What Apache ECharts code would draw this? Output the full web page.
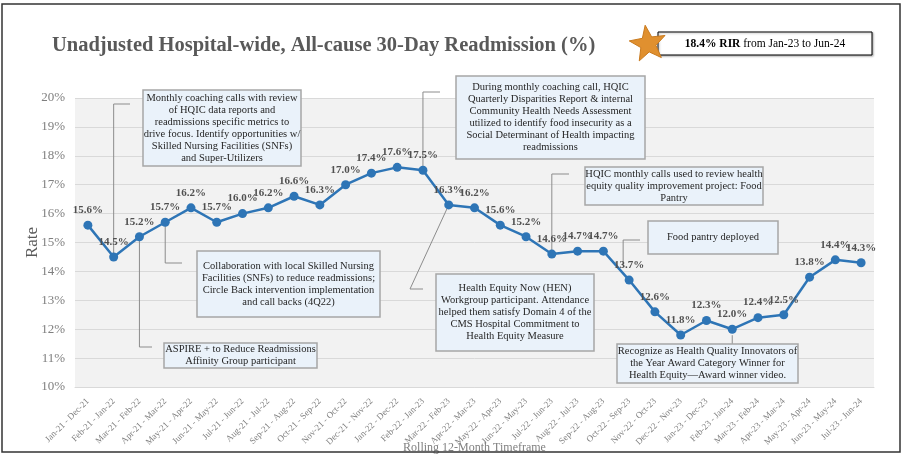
<!DOCTYPE html>
<html>
<head>
<meta charset="utf-8">
<script src="https://cdn.jsdelivr.net/npm/echarts@6/dist/echarts.min.js"></script>
<style>
    html, body { margin: 0; padding: 0; background: #fff; }
    #chart { width: 903px; height: 456px; }
</style>
</head>
<body>
<div id="chart"></div>
<script>
// 横轴：滚动12个月时间段
const periods = [
    'Jan-21 - Dec-21', 'Feb-21 - Jan-22', 'Mar-21 - Feb-22', 'Apr-21 - Mar-22', 'May-21 - Apr-22',
    'Jun-21 - May-22', 'Jul-21 - Jun-22', 'Aug-21 - Jul-22', 'Sep-21 - Aug-22', 'Oct-21 - Sep-22',
    'Nov-21 - Oct-22', 'Dec-21 - Nov-22', 'Jan-22 - Dec-22', 'Feb-22 - Jan-23', 'Mar-22 - Feb-23',
    'Apr-22 - Mar-23', 'May-22 - Apr-23', 'Jun-22 - May-23', 'Jul-22 - Jun-23', 'Aug-22 - Jul-23',
    'Sep-22 - Aug-23', 'Oct-22 - Sep-23', 'Nov-22 - Oct-23', 'Dec-22 - Nov-23', 'Jan-23 - Dec-23',
    'Feb-23 - Jan-24', 'Mar-23 - Feb-24', 'Apr-23 - Mar-24', 'May-23 - Apr-24', 'Jun-23 - May-24',
    'Jul-23 - Jun-24'
];
// 再入院率 (%)
const rates = [
    15.6, 14.5, 15.2, 15.7, 16.2, 15.7, 16.0, 16.2, 16.6, 16.3,
    17.0, 17.4, 17.6, 17.5, 16.3, 16.2, 15.6, 15.2, 14.6, 14.7,
    14.7, 13.7, 12.6, 11.8, 12.3, 12.0, 12.4, 12.5, 13.8, 14.4,
    14.3
];
// 纵轴刻度
const yTicks = [10, 11, 12, 13, 14, 15, 16, 17, 18, 19, 20];

// 注释文字
const noteTexts = [
    'Monthly coaching calls with review\nof HQIC data reports and\nreadmissions specific metrics to\ndrive focus. Identify opportunities w/\nSkilled Nursing Facilities (SNFs)\nand Super-Utilizers',
    'During monthly coaching call, HQIC\nQuarterly Disparities Report & internal\nCommunity Health Needs Assessment\nutilized to identify food insecurity as a\nSocial Determinant of Health impacting\nreadmissions',
    'HQIC monthly calls used to review health\nequity quality improvement project: Food\nPantry',
    'Food pantry deployed',
    'Collaboration with local Skilled Nursing\nFacilities (SNFs) to reduce readmissions;\nCircle Back intervention implementation\nand call backs (4Q22)',
    'ASPIRE + to Reduce Readmissions\nAffinity Group participant',
    'Health Equity Now (HEN)\nWorkgroup participant. Attendance\nhelped them satisfy Domain 4 of the\nCMS Hospital Commitment to\nHealth Equity Measure',
    'Recognize as Health Quality Innovators of\nthe Year Award Category Winner for\nHealth Equity\u2014Award winner video.'
];
// 注释对应的数据点
const noteIndex = [1, 13, 18, 21, 3, 2, 14, 25];

const serif = '"Liberation Serif", "Times New Roman", serif';

let chart = echarts.init(document.getElementById('chart'));

let option = {
    animation: false,
    backgroundColor: '#fff',
    grid: {
        left: 75, right: 29, top: 98, bottom: 69,
        outerBoundsMode: 'none', containLabel: false,
        show: true, backgroundColor: '#f2f2f2', borderWidth: 0
    },
    xAxis: {
        type: 'category',
        data: periods,
        boundaryGap: true,
        name: 'Rolling 12-Month Timeframe',
        nameLocation: 'middle',
        nameGap: 55,
        nameMoveOverlap: false,
        nameTextStyle: { fontFamily: serif, fontSize: 12, color: '#7f7f7f' },
        axisLine: { lineStyle: { color: '#d9d9d9' } },
        axisTick: { show: false },
        axisLabel: {
            rotate: 45, interval: 0, margin: 13,
            fontFamily: serif, fontSize: 9, color: '#7f7f7f'
        }
    },
    yAxis: {
        type: 'value',
        min: yTicks[0], max: yTicks[yTicks.length - 1], interval: 1,
        name: 'Rate',
        nameLocation: 'middle',
        nameGap: 34,
        nameMoveOverlap: false,
        nameTextStyle: { fontFamily: serif, fontSize: 17, color: '#595959' },
        axisLine: { show: false },
        axisTick: { show: false },
        axisLabel: {
            formatter: '{value}%', margin: 10,
            fontFamily: serif, fontSize: 13, color: '#7f7f7f'
        },
        splitLine: { lineStyle: { color: '#d9d9d9' } }
    },
    series: [{
        type: 'line',
        data: rates,
        symbol: 'circle',
        symbolSize: 9,
        lineStyle: { color: '#2e75b6', width: 2.5 },
        itemStyle: { color: '#2e75b6' },
        label: {
            show: true, position: 'top', distance: 5,
            formatter: p => p.value.toFixed(1) + '%',
            fontFamily: serif, fontSize: 11, fontWeight: 'bold', color: '#505050'
        },
        z: 3
    }]
};
chart.setOption(option);

// 注释框位置 [x, y, w, h]
const boxes = [
    [143, 90, 158, 76],
    [456, 76, 189, 83],
    [585, 167, 178, 38],
    [648, 221, 130, 33],
    [197, 251, 183, 66],
    [164, 343, 153, 25],
    [436, 274, 158, 77],
    [617, 344, 181, 39]
];

function buildGraphics() {
    let g = [];
    // 外框
    g.push({
        type: 'rect', shape: { x: 2, y: 4, width: 898, height: 448 },
        style: { fill: 'none', stroke: '#333', lineWidth: 1.5 }, z: 10
    });
    // 标题
    g.push({
        type: 'text', x: 52, y: 46,
        style: {
            text: 'Unadjusted Hospital-wide, All-cause 30-Day Readmission (%)',
            font: 'bold 20.5px ' + serif, fill: '#595959', textVerticalAlign: 'middle'
        }
    });
    // RIR 框
    g.push({
        type: 'rect', shape: { x: 658, y: 32, width: 214, height: 23 },
        style: { fill: '#fff', stroke: '#000', lineWidth: 1, shadowBlur: 2, shadowOffsetX: 1, shadowOffsetY: 1, shadowColor: 'rgba(0,0,0,0.3)' }
    });
    g.push({
        type: 'text', x: 765, y: 44,
        style: {
            text: '{b|18.4% RIR} from Jan-23 to Jun-24',
            font: '11.5px ' + serif, fill: '#000', align: 'center', verticalAlign: 'middle',
            rich: { b: { fontWeight: 'bold', fontFamily: serif, fontSize: 11.5 } }
        }
    });
    // 星形
    let pts = [];
    let cx = 648, cy = 44, R = 19, r = 8, rot = -0.15;
    for (let i = 0; i < 10; i++) {
        let a = rot - Math.PI / 2 + i * Math.PI / 5;
        let rr = i % 2 === 0 ? R : r;
        pts.push([cx + rr * Math.cos(a), cy + rr * Math.sin(a)]);
    }
    g.push({
        type: 'polygon', shape: { points: pts },
        style: { fill: '#e0902f', stroke: '#c97a1e', lineWidth: 1, lineJoin: 'round' }, z: 2
    });

    // 连接线
    const lineStyle = { stroke: '#8c8c8c', lineWidth: 1, fill: 'none' };
    const p = i => chart.convertToPixel({ gridIndex: 0 }, [i, rates[i]]);
    let conns = [];
    let a;
    a = p(noteIndex[0]); conns.push([[a[0], a[1]], [a[0], 104], [130, 104]]);
    a = p(noteIndex[1]); conns.push([[a[0], a[1]], [a[0], 92], [440, 92]]);
    a = p(noteIndex[2]); conns.push([[a[0], a[1]], [a[0], 174], [569, 174]]);
    a = p(noteIndex[3]); conns.push([[a[0] - 6, a[1] - 14], [a[0] - 6, 240], [640, 240]]);
    a = p(noteIndex[4]); conns.push([[a[0], a[1]], [a[0], 263], [182, 263]]);
    a = p(noteIndex[5]); conns.push([[a[0], a[1]], [a[0], 347], [152, 347]]);
    a = p(noteIndex[6]); conns.push([[a[0], a[1]], [410, 289], [423, 289]]);
    a = p(noteIndex[7]); conns.push([[a[0], a[1] + 6], [a[0], 344]]);
    conns.forEach(c => {
        g.push({ type: 'polyline', shape: { points: c }, style: lineStyle, z: 1 });
    });

    // 注释框
    boxes.forEach((b, i) => {
        g.push({
            type: 'rect', shape: { x: b[0], y: b[1], width: b[2], height: b[3] },
            style: { fill: '#eaf2fa', stroke: '#a6a6a6', lineWidth: 1.5 }, z: 5
        });
        g.push({
            type: 'text', x: b[0] + b[2] / 2, y: b[1] + b[3] / 2,
            style: {
                text: noteTexts[i], font: '10.5px ' + serif, fill: '#262626',
                align: 'center', verticalAlign: 'middle', lineHeight: 12
            }, z: 6
        });
    });
    return g;
}

chart.setOption({ graphic: buildGraphics() });
</script>
</body>
</html>
